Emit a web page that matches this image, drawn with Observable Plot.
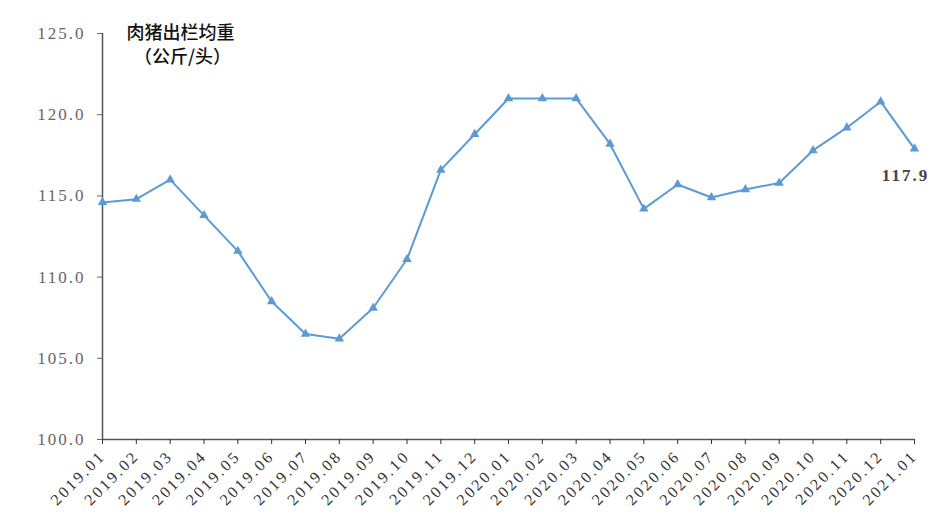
<!DOCTYPE html>
<html><head><meta charset="utf-8">
<script src="https://cdn.jsdelivr.net/npm/d3@7"></script>
<script src="https://cdn.jsdelivr.net/npm/@observablehq/plot@0.6"></script>
<style>
body{margin:0;background:#fff;}
g[aria-label="x-axis tick label"] text{letter-spacing:2.5px;}
g[aria-label="y-axis tick label"] text{letter-spacing:2px;}
[aria-label="end-label"], [aria-label="end-label"] text{letter-spacing:2px;}
</style>
</head><body><div id="chart"></div>
<script>
const months = ["2019.01","2019.02","2019.03","2019.04","2019.05","2019.06","2019.07","2019.08","2019.09","2019.10","2019.11","2019.12",
  "2020.01","2020.02","2020.03","2020.04","2020.05","2020.06","2020.07","2020.08","2020.09","2020.10","2020.11","2020.12","2021.01"];
const weights = [114.6,114.8,116.0,113.8,111.6,108.5,106.5,106.2,108.1,111.1,116.6,118.8,
  121.0,121.0,121.0,118.2,114.2,115.7,114.9,115.4,115.8,117.8,119.2,120.8,117.9];
const yTicks = [100,105,110,115,120,125];
const titleLine1 = "肉猪出栏均重";
const titleLine2 = "（公斤/头）";
const endLabel = "117.9";

const data = months.map((m, i) => ({month: m, weight: weights[i]}));

const chart = Plot.plot({
  width: 943, height: 525,
  marginLeft: 102, marginRight: 29, marginTop: 33, marginBottom: 86,
  style: {fontFamily: "'Liberation Serif', 'DejaVu Serif', serif", background: "#fff"},
  x: {type: "point", domain: months, padding: 0, round: false},
  y: {domain: [100, 125]},
  marks: [
    Plot.ruleY([100], {stroke: "#555", strokeWidth: 1.5}),
    Plot.ruleX([months[0]], {stroke: "#555", strokeWidth: 1.5}),
    Plot.axisY({ticks: yTicks, tickFormat: d => d.toFixed(1), tickSize: 5, tickPadding: 12, fontSize: 17, color: "#666", label: null}),
    Plot.axisX({tickRotate: -45, tickSize: 5, tickPadding: 9, fontSize: 16, color: "#333", label: null}),
    Plot.line(data, {x: "month", y: "weight", stroke: "#5B9BD5", strokeWidth: 2}),
    Plot.dot(data, {x: "month", y: "weight", symbol: "triangle", r: 3.5, fill: "#5B9BD5"}),
    Plot.text([data[data.length - 1]], {x: "month", y: "weight", text: () => endLabel, dy: 27, dx: -9, fontSize: 17, fontWeight: "bold", fill: "#444", ariaLabel: () => "end-label"}),
    Plot.text([titleLine1], {frameAnchor: "top-left", dx: 78, dy: 0, textAnchor: "middle", lineAnchor: "middle", fontSize: 18, fontWeight: 500, fontFamily: "'Noto Sans CJK SC', sans-serif", fill: "#111"}),
    Plot.text([titleLine2], {frameAnchor: "top-left", dx: 80, dy: 24, textAnchor: "middle", lineAnchor: "middle", fontSize: 18, fontWeight: 500, fontFamily: "'Noto Sans CJK SC', sans-serif", fill: "#111"})
  ]
});
document.getElementById("chart").append(chart);
</script>
</body></html>
